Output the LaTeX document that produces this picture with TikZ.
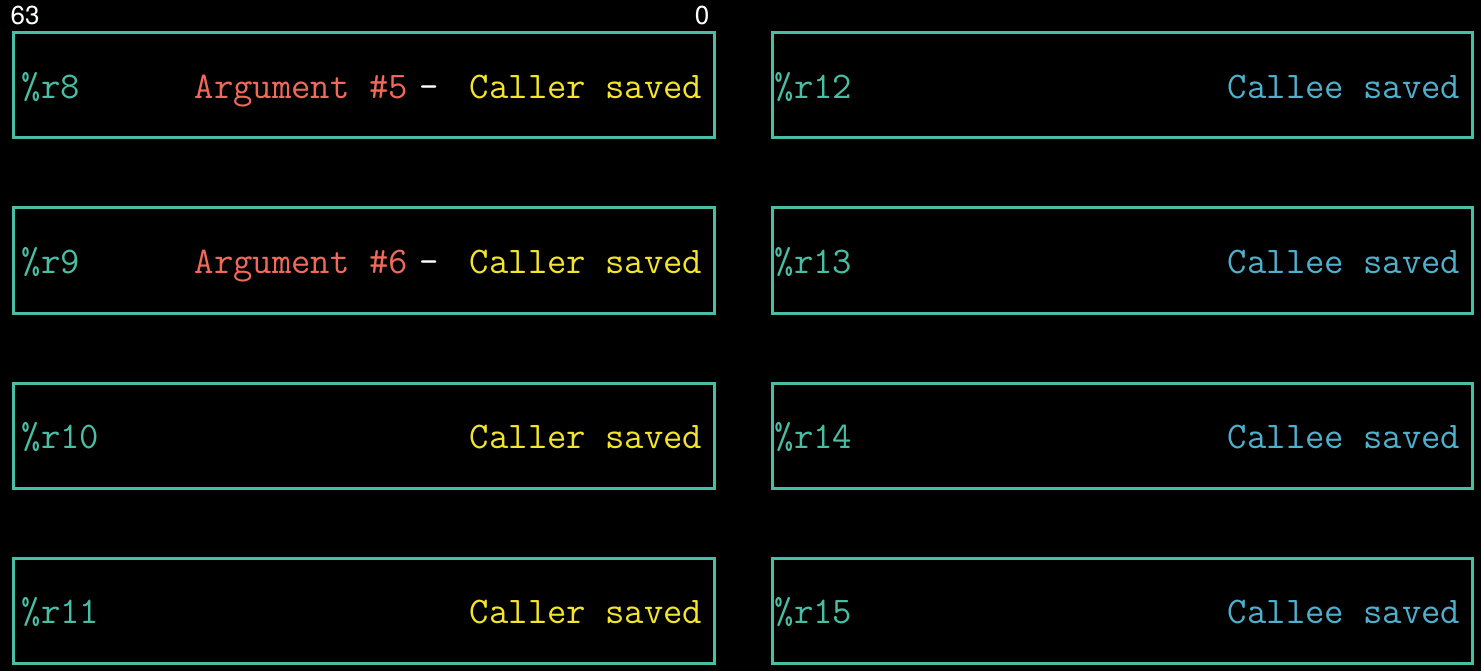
\documentclass[tikz,border=0pt]{standalone}
\usepackage{fontspec}
\newfontfamily\bitfont{TeX Gyre Heros}
\usetikzlibrary{positioning}
\definecolor{regteal}{HTML}{48BFA4}
\definecolor{argred}{HTML}{F0695A}
\definecolor{callerylw}{HTML}{F2E52A}
\definecolor{calleeblu}{HTML}{4FB0CC}
\begin{document}
\begin{tikzpicture}[x=1pt,y=1pt,
  regbox/.style={draw=regteal,line width=3pt,minimum width=701pt,minimum height=105pt,inner sep=0pt},
  regtxt/.style={inner sep=0pt,font=\fontsize{37.6}{44}\selectfont\ttfamily},
  regname/.style={regtxt,text=regteal,anchor=base west},
  caller/.style={regtxt,text=callerylw,anchor=base east},
  callee/.style={regtxt,text=calleeblu,anchor=base east},
  argtxt/.style={regtxt,text=argred,anchor=base east},
  bits/.style={inner sep=0pt,text=white,anchor=base,font=\fontsize{26}{30}\selectfont\bitfont}]
\fill[black] (0,0) rectangle (1481,-671);
\useasboundingbox (0,0) rectangle (1481,-671);

% bit numbers
\node[bits] (b63) at (25,-25) {63};
\node[bits] (b0) at (702,-25) {0};

% caller saved registers
\node[regbox] (r8) at (363.5,-85.5) {};
\node[regbox] (r9) at (363.5,-260.5) {};
\node[regbox] (r10) at (363.5,-435.5) {};
\node[regbox] (r11) at (363.5,-610.5) {};

\node[regname] (n8) at ([xshift=10pt,yshift=-13pt]r8.west) {\%r8};
\node[regname] (n9) at ([xshift=10pt,yshift=-13pt]r9.west) {\%r9};
\node[regname] (n10) at ([xshift=10pt,yshift=-13pt]r10.west) {\%r10};
\node[regname] (n11) at ([xshift=10pt,yshift=-13pt]r11.west) {\%r11};

\node[caller] (s8) at ([xshift=-13pt,yshift=-13pt]r8.east) {Caller saved};
\node[caller] (s9) at ([xshift=-13pt,yshift=-13pt]r9.east) {Caller saved};
\node[caller] (s10) at ([xshift=-13pt,yshift=-13pt]r10.east) {Caller saved};
\node[caller] (s11) at ([xshift=-13pt,yshift=-13pt]r11.east) {Caller saved};

\node[regtxt,text=white,anchor=base east] (d8) at ([xshift=-31pt]s8.base west) {-};
\node[regtxt,text=white,anchor=base east] (d9) at ([xshift=-31pt]s9.base west) {-};
\node[argtxt] (a8) at ([xshift=-11pt]d8.base west) {Argument \#5};
\node[argtxt] (a9) at ([xshift=-11pt]d9.base west) {Argument \#6};

% callee saved registers
\node[regbox,minimum width=700pt] (r12) at (1122,-85.5) {};
\node[regbox,minimum width=700pt] (r13) at (1122,-260.5) {};
\node[regbox,minimum width=700pt] (r14) at (1122,-435.5) {};
\node[regbox,minimum width=700pt] (r15) at (1122,-610.5) {};

\node[regname] (n12) at ([xshift=4pt,yshift=-13pt]r12.west) {\%r12};
\node[regname] (n13) at ([xshift=4pt,yshift=-13pt]r13.west) {\%r13};
\node[regname] (n14) at ([xshift=4pt,yshift=-13pt]r14.west) {\%r14};
\node[regname] (n15) at ([xshift=4pt,yshift=-13pt]r15.west) {\%r15};

\node[callee] (s12) at ([xshift=-13pt,yshift=-13pt]r12.east) {Callee saved};
\node[callee] (s13) at ([xshift=-13pt,yshift=-13pt]r13.east) {Callee saved};
\node[callee] (s14) at ([xshift=-13pt,yshift=-13pt]r14.east) {Callee saved};
\node[callee] (s15) at ([xshift=-13pt,yshift=-13pt]r15.east) {Callee saved};

\end{tikzpicture}
\end{document}
